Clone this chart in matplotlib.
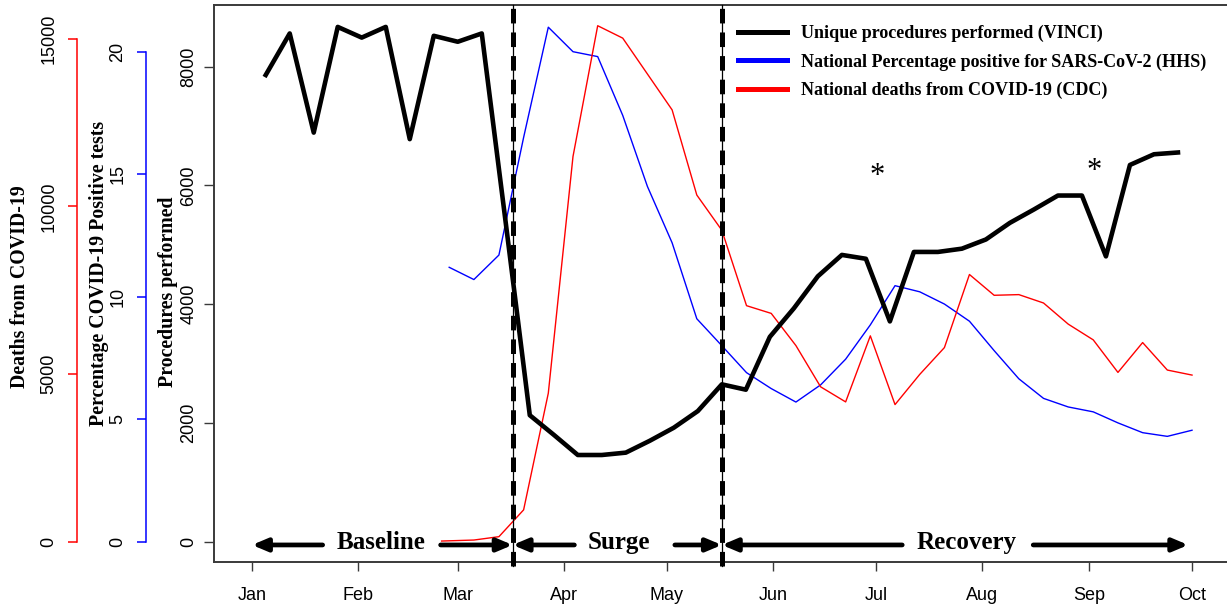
import matplotlib
matplotlib.use("Agg")
import matplotlib.pyplot as plt
from matplotlib.lines import Line2D
from matplotlib import font_manager

installed = {f.name for f in font_manager.fontManager.ttflist}
SANS = 'Liberation Sans Narrow' if 'Liberation Sans Narrow' in installed else 'Liberation Sans'
plt.rcParams['font.family'] = [SANS, 'DejaVu Sans']
plt.rcParams['lines.scale_dashes'] = False
SERIF = 'Liberation Serif'

# days since 1 Jan 2020
days_proc = [4, 11, 18, 25, 32, 39, 46, 53, 60, 67, 74, 81, 88, 95, 102, 109, 116,
             123, 130, 137, 144, 151, 158, 165, 172, 179, 186, 193, 200, 207, 214,
             221, 228, 235, 242, 249, 256, 263, 270]
procedures = [7860, 8560, 6890, 8670, 8490, 8670, 6780, 8520, 8420, 8560, 5365,
              2130, 1800, 1460, 1460, 1500, 1700, 1920, 2200, 2650, 2560, 3450,
              3930, 4470, 4830, 4765, 3710, 4880, 4880, 4935, 5090, 5370, 5595,
              5830, 5830, 4805, 6345, 6525, 6555]

days_pos = [57.5, 64.7, 72.0, 79.2, 86.4, 93.6, 100.8, 108.1, 115.3, 122.5, 129.7,
            137.0, 144.2, 151.4, 158.6, 165.8, 173.1, 180.3, 187.5, 194.7, 201.9,
            209.2, 216.4, 223.6, 230.8, 238.0, 245.3, 252.5, 259.7, 266.9, 274.1]
pct_positive = [11.2, 10.7, 11.7, 16.5, 21.0, 20.0, 19.8, 17.4, 14.5, 12.2, 9.1,
                8.0, 6.9, 6.25, 5.7, 6.4, 7.45, 8.85, 10.45, 10.2, 9.7, 9.0, 7.8,
                6.65, 5.85, 5.5, 5.3, 4.85, 4.45, 4.3, 4.55]

days_deaths = [55.3, 64.7, 72.0, 79.2, 86.4, 93.6, 100.8, 108.1, 115.3, 122.5, 129.7,
               137.0, 144.2, 151.4, 158.6, 165.8, 173.1, 180.3, 187.5, 194.7, 201.9,
               209.2, 216.4, 223.6, 230.8, 238.0, 245.3, 252.5, 259.7, 266.9, 274.1]
deaths = [20, 50, 150, 950, 4430, 11490, 15390, 15020, 13950, 12880, 10340, 9290,
          7040, 6810, 5850, 4620, 4170, 6140, 4090, 4990, 5790, 7970, 7350, 7370,
          7120, 6490, 6020, 5050, 5940, 5120, 4970]

month_ticks = [0, 31, 60, 91, 121, 152, 182, 213, 244, 274]
month_labels = ['Jan', 'Feb', 'Mar', 'Apr', 'May', 'Jun', 'Jul', 'Aug', 'Sep', 'Oct']

phase_breaks = [76, 137]
phase_names = ['Baseline', 'Surge', 'Recovery']
star_days = [182.3, 245.5]

legend_labels = ['Unique procedures performed (VINCI)',
                 'National Percentage positive for SARS-CoV-2 (HHS)',
                 'National deaths from COVID-19 (CDC)']

W, H = 1227, 608
fig = plt.figure(figsize=(W / 100, H / 100), dpi=100)
fig.patch.set_facecolor('white')
ax = fig.add_axes([214 / W, 1 - 561.7 / H, (W - 214) / W, (561.7 - 5) / H])

ax.plot(days_proc, procedures, color='black', lw=3.3, zorder=4)
ax.set_xlim(-11.08, 284.3)
ax.set_ylim(-337, 9039)
for s in ['top', 'left', 'bottom']:
    ax.spines[s].set_color('#3a3a3a')
    ax.spines[s].set_linewidth(1.4)
ax.spines['right'].set_visible(False)
ax.set_xticks(month_ticks)
ax.set_xticklabels(month_labels)
ax.set_yticks([0, 2000, 4000, 6000, 8000])
ax.tick_params(axis='x', length=6.5, width=1, color='#3a3a3a', pad=12, labelsize=13)
ax.tick_params(axis='y', length=7.2, width=1, color='#3a3a3a', pad=4.6, labelsize=13,
               labelrotation=90)
for lab in ax.get_yticklabels():
    lab.set_va('center')


def side_axis(color, pos, ticks, lim, xs, ys):
    a = ax.twinx()
    a.plot(xs, ys, color=color, lw=1.0)
    a.set_ylim(*lim)
    for s in ['right', 'top', 'bottom']:
        a.spines[s].set_visible(False)
    a.spines['left'].set_visible(True)
    a.spines['left'].set_position(('axes', pos))
    a.spines['left'].set_bounds(ticks[0], ticks[-1])
    a.spines['left'].set_color(color)
    a.spines['left'].set_linewidth(1.1)
    a.yaxis.set_ticks_position('left')
    a.set_yticks(ticks)
    a.tick_params(axis='y', color=color, length=6.5, width=1.1, pad=7.5,
                  labelsize=13, labelrotation=90, labelcolor='black')
    for lab in a.get_yticklabels():
        lab.set_va('center')
    return a


ax_pos = side_axis('#0000ff', (146 - 214) / 1013, [0, 5, 10, 15, 20],
                   (-0.816, 21.906), days_pos, pct_positive)
ax_dth = side_axis('#ff0000', (76.7 - 214) / 1013, [0, 5000, 10000, 15000],
                   (-596, 16008), days_deaths, deaths)
ax.set_zorder(ax_dth.get_zorder() + 2)
ax.patch.set_visible(False)

# axis titles
fig.text(20 / W, 1 - 287 / H, 'Deaths from COVID-19', rotation=90, ha='center',
         va='center', family=SERIF, weight='bold', fontsize=14.3)
fig.text(99 / W, 1 - 273 / H, 'Percentage COVID-19 Positive tests', rotation=90,
         ha='center', va='center', family=SERIF, weight='bold', fontsize=14.3)
fig.text(168.5 / W, 1 - 292 / H, 'Procedures performed', rotation=90, ha='center',
         va='center', family=SERIF, weight='bold', fontsize=14.3)

# phase dividers, running a little below the x axis line
for d in phase_breaks:
    ax.plot([d, d], [-410, 9039], color='black', lw=0.9, clip_on=False, zorder=6)
    ax.plot([d, d], [-410, 9039], color='black', lw=3.6, dashes=(10.5, 6.5),
            clip_on=False, zorder=6)

# phase arrows
y_arr = -55
arrow_style = dict(arrowstyle='-|>,head_length=0.9,head_width=0.38', lw=3.4,
                   color='black', shrinkA=0, shrinkB=0, mutation_scale=10)
segments = [(20.6, 0), (55.0, 76), (94.0, 76), (123.3, 137), (189.6, 137), (227.8, 273)]
for x0, x1 in segments:
    ax.annotate('', xy=(x1, y_arr), xytext=(x0, y_arr), arrowprops=arrow_style,
                annotation_clip=False, zorder=6)
for name, xc in zip(phase_names, [37.6, 107.0, 208.3]):
    ax.text(xc, -131, name, ha='center', va='baseline', family=SERIF,
            weight='bold', fontsize=18, zorder=6)

# significance marks
for d, yv in zip(star_days, [6018, 6103]):
    ax.text(d, yv, '*', ha='center', va='baseline', family=SERIF, fontsize=22)

handles = [Line2D([], [], color=c, lw=3.6) for c in ['black', '#0000ff', '#ff0000']]
ax.legend(handles, legend_labels, loc='upper left',
          bbox_to_anchor=(738 / W, 1 - 25 / H), bbox_transform=fig.transFigure,
          frameon=False, borderpad=0, borderaxespad=0, handlelength=2.7,
          handletextpad=0.8, labelspacing=0.62,
          prop=dict(family=SERIF, weight='bold', size=13))

fig.savefig('out.png', dpi=100)
